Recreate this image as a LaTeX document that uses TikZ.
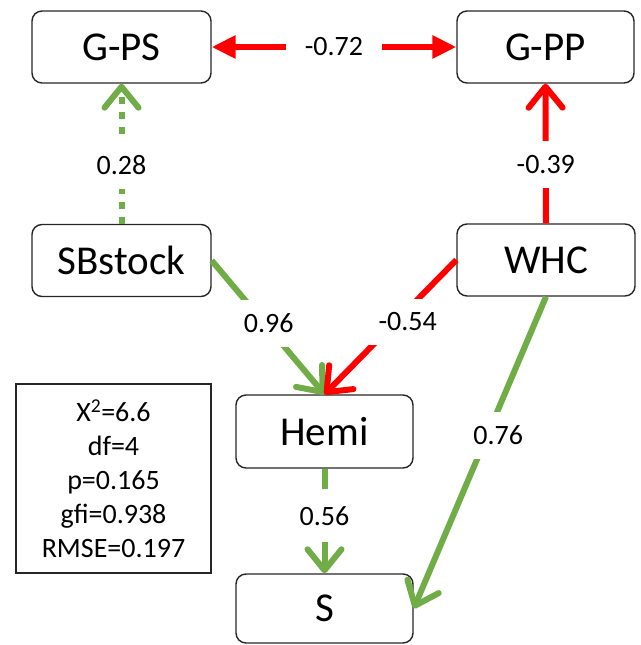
\documentclass[tikz,border=0pt]{standalone}
\usepackage{fontspec}
\setmainfont{Carlito}
\usetikzlibrary{arrows.meta}
\definecolor{posgreen}{HTML}{70AD47}
\definecolor{negred}{HTML}{FF0000}
\begin{document}
\begin{tikzpicture}[x=1pt,y=-1pt,
  var/.style={draw=black!85, line width=1.4pt, rounded corners=10pt,
    minimum height=72pt, inner sep=0pt, font=\fontsize{41}{49}\selectfont},
  stats/.style={draw=black!85, line width=1.4pt, minimum width=195pt,
    minimum height=189pt, inner sep=0pt, align=center,
    font=\fontsize{28}{34}\selectfont},
  coef/.style={fill=white, inner sep=14pt, font=\fontsize{28}{34}\selectfont},
  link/.style={line width=6pt},
  posline/.style={link, draw=posgreen},
  negline/.style={link, draw=negred},
  barb/.style={-{Straight Barb[length=21pt,width=34pt,round]}},
  twohead/.style={{Triangle[length=24pt,width=22pt]}-{Triangle[length=24pt,width=22pt]}},
]
\useasboundingbox (0,0) rectangle (640,645);

% variables
\node[var, minimum width=179pt] (gps)  at (121.5,47)    {G-PS};
\node[var, minimum width=177pt] (gpp)  at (545.5,47)    {G-PP};
\node[var, minimum width=179pt] (sb)   at (121.5,260.5) {SBstock};
\node[var, minimum width=178pt] (whc)  at (546,260)     {WHC};
\node[var, minimum width=177pt, minimum height=73pt] (hemi) at (324.5,431.5) {Hemi};
\node[var, minimum width=177pt, minimum height=69pt] (s)    at (324.5,608.5) {S};

% fit statistics
\node[stats] (fit) at (113.5,478.5)
  {X\textsuperscript{2}=6.6\\ df=4\\ p=0.165\\ gfi=0.938\\ RMSE=0.197};

% paths
\draw[negline, twohead] (gps.east) -- node[coef, inner xsep=19pt] {-0.72} (gpp.west);
\draw[posline, barb, dash pattern=on 7pt off 8pt] (sb.north) -- node[coef, pos=0.42] {0.28} (gps.south);
\draw[negline, barb] (whc.north) -- node[coef, pos=0.42] {-0.39} (gpp.south);
\draw[posline, barb] (sb.east) -- node[coef, pos=0.47, xshift=4pt] {0.96} (hemi.north);
\draw[negline, barb] (whc.west) -- node[coef, pos=0.46, xshift=12pt] {-0.54} (hemi.north);
\draw[posline, barb] (hemi.south) -- node[coef, pos=0.45, inner ysep=17pt] {0.56} (s.north);
\draw[posline, barb] (whc.south) -- node[coef, pos=0.445, xshift=11pt] {0.76} (s.east);
\end{tikzpicture}
\end{document}
